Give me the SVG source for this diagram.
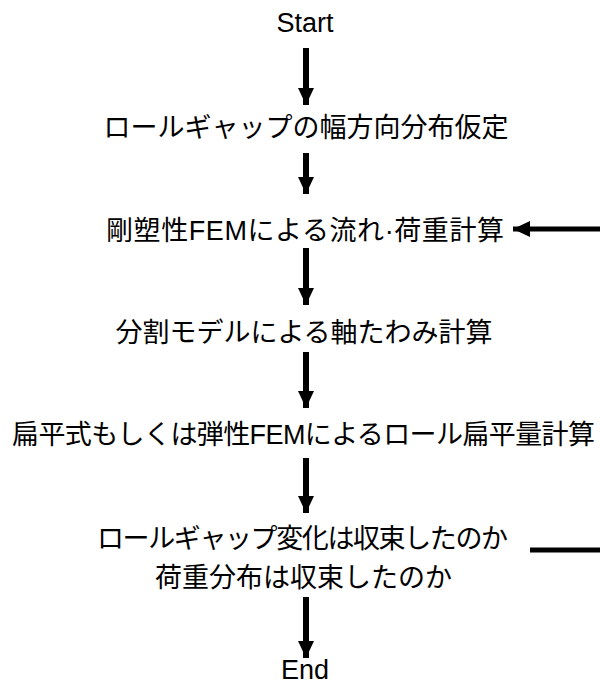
<svg xmlns="http://www.w3.org/2000/svg" width="600" height="682" viewBox="0 0 600 682">
<defs>
<style>
text{font-family:"Liberation Sans","Noto Sans CJK JP",sans-serif;font-size:27px;fill:#000;text-anchor:middle}
.c{stroke:#000;stroke-width:6;fill:none}
.h{stroke:#000;stroke-width:5;fill:none}
</style>
<marker id="ah" markerUnits="userSpaceOnUse" markerWidth="18" markerHeight="16" refX="17" refY="8" orient="auto">
<path d="M0,0 L17,8 L0,16 Z" fill="#000"/>
</marker>
</defs>
<rect width="600" height="682" fill="#fff"/>
<g id="start"><text x="305" y="32">Start</text></g>
<g id="n1"><text x="306" y="137">ロールギャップの幅方向分布仮定</text></g>
<g id="n2"><text x="305" y="240" textLength="398" lengthAdjust="spacing">剛塑性FEMによる流れ·荷重計算</text></g>
<g id="n3"><text x="304" y="342">分割モデルによる軸たわみ計算</text></g>
<g id="n4"><text x="303.5" y="444" textLength="583" lengthAdjust="spacing">扁平式もしくは弾性FEMによるロール扁平量計算</text></g>
<g id="n5"><text x="302.5" y="548" textLength="411" lengthAdjust="spacing">ロールギャップ変化は収束したのか</text><text x="303.5" y="587">荷重分布は収束したのか</text></g>
<g id="end"><text x="305" y="679">End</text></g>
<g id="connectors">
<line class="c" x1="306" y1="48" x2="306" y2="105" marker-end="url(#ah)"/>
<line class="c" x1="306" y1="153" x2="306" y2="194" marker-end="url(#ah)"/>
<line class="c" x1="306" y1="248" x2="306" y2="305" marker-end="url(#ah)"/>
<line class="c" x1="306" y1="352" x2="306" y2="408" marker-end="url(#ah)"/>
<line class="c" x1="306" y1="458" x2="306" y2="513" marker-end="url(#ah)"/>
<line class="c" x1="306" y1="597" x2="306" y2="658" marker-end="url(#ah)"/>
<line class="h" x1="600" y1="229" x2="513" y2="229" marker-end="url(#ah)"/>
<line class="h" x1="530" y1="550" x2="600" y2="550"/>
</g>
</svg>
